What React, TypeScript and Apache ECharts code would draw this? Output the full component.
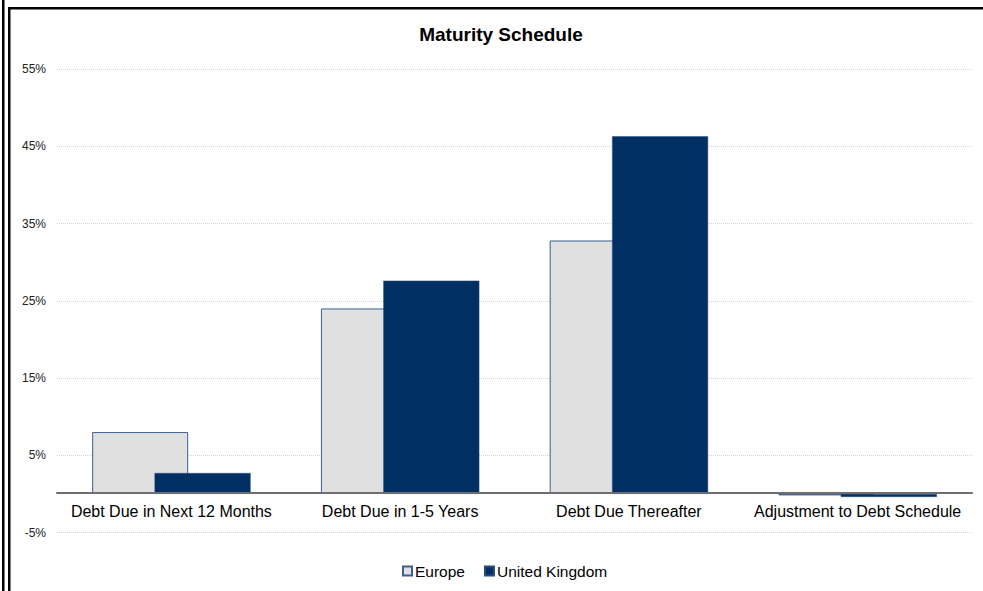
import React, { useEffect, useRef } from "react";
import * as echarts from "echarts";

const categories = [
  "Debt Due in Next 12 Months",
  "Debt Due in 1-5 Years",
  "Debt Due Thereafter",
  "Adjustment to Debt Schedule",
];
const europe = [8.0, 24.0, 32.8, -0.2];
const unitedKingdom = [2.7, 27.6, 46.3, -0.4];
const yMin = -5;
const yMax = 55;
const yStep = 10;

export default function App() {
  const ref = useRef<HTMLDivElement>(null);
  useEffect(() => {
    if (!ref.current) return;
    const chart = echarts.init(ref.current, undefined, { renderer: "svg" });
    chart.setOption({
      animation: false,
      backgroundColor: "#ffffff",
      textStyle: { fontFamily: "Liberation Sans, Arial, sans-serif" },
      title: {
        text: "Maturity Schedule",
        left: 496,
        textAlign: "center",
        top: 20,
        textStyle: { fontSize: 19, fontWeight: "bold", color: "#000", fontFamily: "Liberation Sans, Arial, sans-serif" },
      },
      legend: {
        data: ["Europe", "United Kingdom"],
        left: 397,
        top: 558,
        itemWidth: 9,
        itemHeight: 9,
        itemGap: 19,
        icon: "rect",
        textStyle: { fontSize: 15.5, color: "#000", padding: [0, 0, 0, -2] },
      },
      grid: { left: 57, right: 11, top: 69, bottom: 58.5 },
      xAxis: {
        type: "category",
        data: categories,
        offset: -39.3,
        axisLine: { onZero: false, lineStyle: { color: "#6e6e6e", width: 2 } },
        axisTick: { show: false },
        axisLabel: { fontSize: 16, color: "#000", margin: 10, interval: 0 },
        z: 5,
      },
      yAxis: {
        type: "value",
        min: yMin,
        max: yMax,
        interval: yStep,
        axisLine: { show: false },
        axisTick: { show: false },
        axisLabel: { fontSize: 12, color: "#222", margin: 11, formatter: (v: number) => `${Math.round(v)}%` },
        splitLine: { show: true, lineStyle: { color: "#d4d4d4", type: "dotted", width: 1 } },
      },
      series: [
        {
          name: "Europe",
          type: "bar",
          data: europe,
          barWidth: 96,
          barGap: "-35%",
          itemStyle: { color: "#e0e0e0", borderColor: "#3e5f8f", borderWidth: 1 },
          z: 2,
        },
        {
          name: "United Kingdom",
          type: "bar",
          data: unitedKingdom,
          barWidth: 96,
          barGap: "-35%",
          itemStyle: { color: "#002f63", borderColor: "#2a4b7c", borderWidth: 0.5 },
          z: 3,
        },
      ],
      graphic: [
        { type: "rect", shape: { x: 2, y: 0, width: 2.5, height: 591 }, style: { fill: "#000" } },
        { type: "rect", shape: { x: 8, y: 7, width: 2.5, height: 584 }, style: { fill: "#000" } },
        { type: "rect", shape: { x: 8, y: 7, width: 975, height: 2.5 }, style: { fill: "#000" } },
      ],
    });
    return () => chart.dispose();
  }, []);
  return (
    <div
      ref={ref}
      style={{ position: "fixed", left: 0, top: 0, width: 983, height: 591 }}
    />
  );
}
